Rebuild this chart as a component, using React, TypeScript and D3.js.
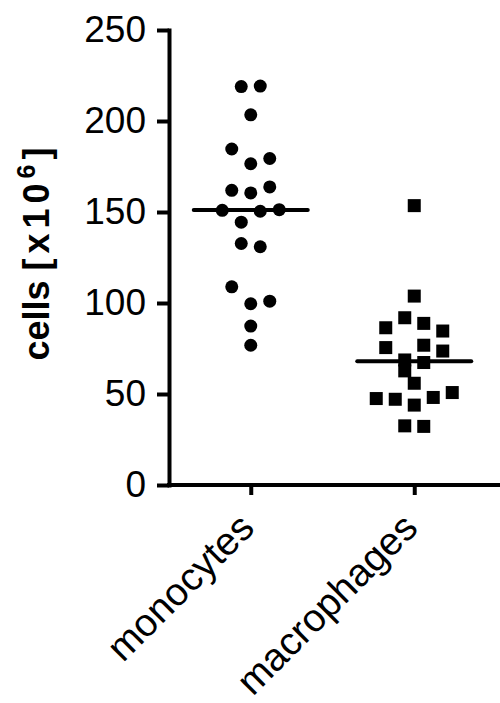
import React, { useEffect, useRef } from 'react'
import * as d3 from 'd3'

// values (cells x10^6), listed left to right within each row
const categories = ['monocytes', 'macrophages']
const monocytes = [218.9, 219.2, 203.4, 184.6, 176.5, 179.4, 161.9, 160.5, 163.8, 150.9, 144.4, 150.4, 151.3, 132.7, 130.9, 108.9, 99.6, 101.0, 87.3, 76.8]
const macrophages = [153.5, 103.8, 86.4, 91.9, 88.8, 84.6, 75.5, 68.7, 76.8, 73.6, 62.7, 67.3, 47.5, 47.1, 55.9, 48.1, 50.8, 43.9, 32.5, 32.2]
const yTicks = [0, 50, 100, 150, 200, 250]

// Prism-like scatter: group values into rows, spread each row around the centre
function swarmOffsets(values: number[], rowSpan: number, step: number) {
  const order = d3.range(values.length).sort((a, b) => values[b] - values[a])
  const offsets: number[] = new Array(values.length).fill(0)
  let i = 0
  while (i < order.length) {
    const top = values[order[i]]
    const row: number[] = []
    while (i < order.length && top - values[order[i]] <= rowSpan) {
      row.push(order[i])
      i++
    }
    row.sort((a, b) => a - b)
    row.forEach((idx, k) => { offsets[idx] = (k - (row.length - 1) / 2) * step })
  }
  return offsets
}

export default function App() {
  const svgRef = useRef<SVGSVGElement | null>(null)

  useEffect(() => {
    if (!svgRef.current) return
    const svg = d3.select(svgRef.current)
    svg.selectAll('*').remove()

    const width = 500
    const height = 703
    const font = '"Liberation Sans", Arial, sans-serif'

    svg.attr('width', width).attr('height', height).style('background', '#fff')

    const y = d3.scaleLinear().domain([0, 250]).range([485, 30])
    const x = d3.scalePoint<string>().domain(categories).range([169, 496]).padding(0.5)

    // y axis
    const yAxis = svg.append('g')
      .attr('transform', 'translate(169, 0)')
      .call(d3.axisLeft(y).tickValues(yTicks).tickSize(12).tickPadding(11).tickSizeOuter(0))
    yAxis.select('.domain').attr('stroke', '#000').attr('stroke-width', 4).attr('stroke-linecap', 'square')
    yAxis.selectAll('.tick line').attr('stroke', '#000').attr('stroke-width', 4)
    yAxis.selectAll('.tick text')
      .attr('fill', '#000')
      .style('font-family', font)
      .style('font-size', '37px')

    // x axis
    svg.append('line')
      .attr('x1', 167).attr('x2', width)
      .attr('y1', 485).attr('y2', 485)
      .attr('stroke', '#000').attr('stroke-width', 4)

    const xAxis = svg.append('g')
      .attr('transform', 'translate(0, 485)')
      .call(d3.axisBottom(x).tickSize(10).tickSizeOuter(0))
    xAxis.select('.domain').remove()
    xAxis.selectAll('.tick line').attr('stroke', '#000').attr('stroke-width', 4)
    xAxis.selectAll('.tick text')
      .attr('x', 0).attr('y', 0).attr('dy', null)
      .attr('text-anchor', 'end')
      .attr('transform', 'translate(5, 45) rotate(-45)')
      .attr('fill', '#000')
      .style('font-family', font)
      .style('font-size', '39px')

    // y axis title
    const title = svg.append('text')
      .attr('transform', 'translate(49, 254) rotate(-90)')
      .attr('text-anchor', 'middle')
      .style('font-family', font)
      .style('font-size', '36px')
      .style('font-weight', 'bold')
    title.append('tspan').text('cells ')
    title.append('tspan').style('letter-spacing', '5px').text('[x10')
    title.append('tspan').attr('dy', -14).style('font-size', '25px').text('6')
    title.append('tspan').attr('dy', 14).attr('dx', 5).text(']')

    const step = 19
    const size = 13

    // monocytes: circles
    const monoX = x('monocytes') as number
    const monoOff = swarmOffsets(monocytes, 9.4, step)
    svg.append('g').selectAll('circle')
      .data(monocytes)
      .enter()
      .append('circle')
      .attr('cx', (d, i) => monoX + monoOff[i])
      .attr('cy', d => y(d))
      .attr('r', size / 2)
      .attr('fill', '#000')

    // macrophages: squares
    const macroX = x('macrophages') as number
    const macroOff = swarmOffsets(macrophages, 9.4, step)
    svg.append('g').selectAll('rect')
      .data(macrophages)
      .enter()
      .append('rect')
      .attr('x', (d, i) => macroX + macroOff[i] - size / 2)
      .attr('y', d => y(d) - size / 2)
      .attr('width', size)
      .attr('height', size)
      .attr('fill', '#000')

    // median lines
    const groups = [monocytes, macrophages]
    svg.append('g').selectAll('line')
      .data(groups)
      .enter()
      .append('line')
      .attr('x1', (d, i) => (x(categories[i]) as number) - 57)
      .attr('x2', (d, i) => (x(categories[i]) as number) + 57)
      .attr('y1', d => y(d3.median(d) as number))
      .attr('y2', d => y(d3.median(d) as number))
      .attr('stroke', '#000')
      .attr('stroke-width', 4)
      .attr('stroke-linecap', 'round')
  }, [])

  return (
    <svg ref={svgRef} style={{ position: 'absolute', left: 0, top: 0, display: 'block' }}></svg>
  )
}
